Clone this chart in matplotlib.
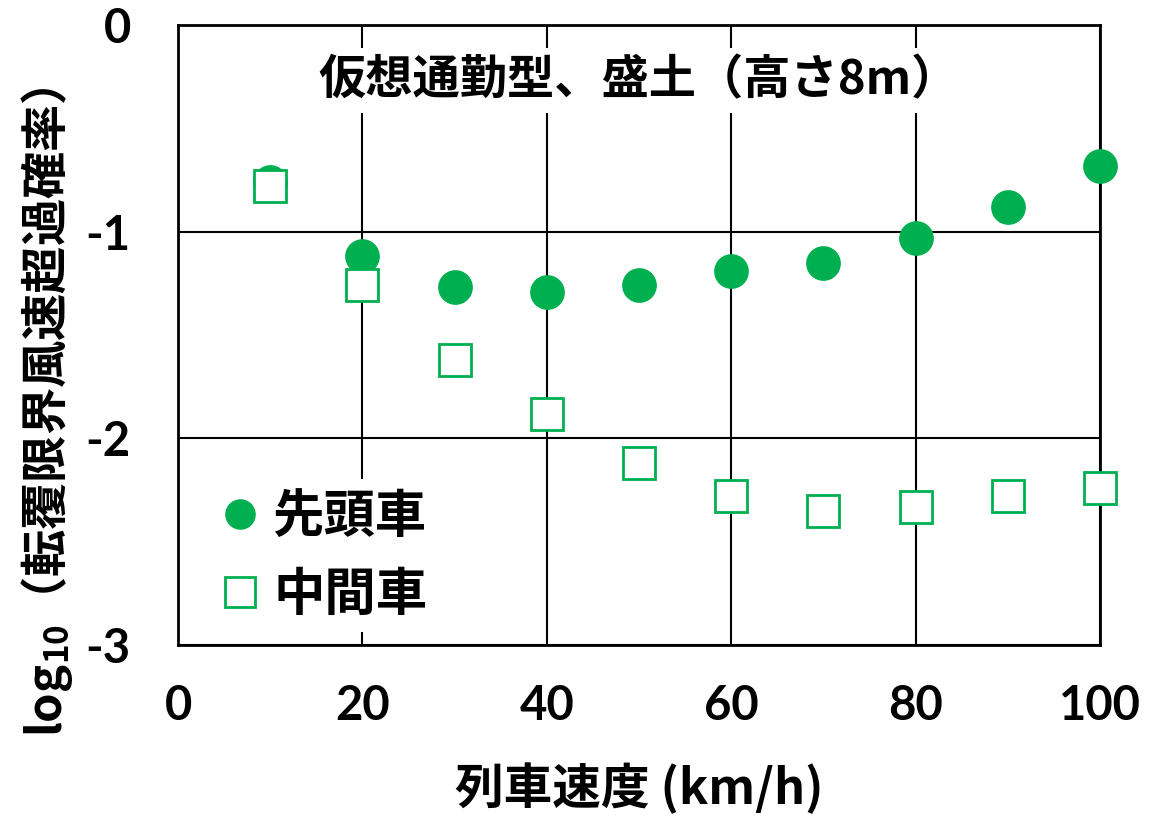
import matplotlib.pyplot as plt
from matplotlib.lines import Line2D

plt.rcParams["font.family"] = ["Noto Sans CJK JP", "DejaVu Sans"]
plt.rcParams["mathtext.fontset"] = "custom"
plt.rcParams["mathtext.rm"] = "Noto Sans CJK JP:bold"
plt.rcParams["mathtext.bf"] = "Noto Sans CJK JP:bold"

# data
speed = [10, 20, 30, 40, 50, 60, 70, 80, 90, 100]
lead_car = [-0.76, -1.12, -1.27, -1.29, -1.26, -1.19, -1.15, -1.03, -0.88, -0.68]
middle_car = [-0.78, -1.26, -1.62, -1.88, -2.12, -2.28, -2.35, -2.33, -2.28, -2.24]
x_ticks = [0, 20, 40, 60, 80, 100]
y_ticks = [0, -1, -2, -3]

GREEN = "#00B050"
NUM_FONT = ["Lato", "DejaVu Sans"]

fig = plt.figure(figsize=(11.66, 8.18), dpi=100, facecolor="white")
ax = fig.add_axes([0.1527, 0.2115, 0.7907, 0.7579])

ax.plot(speed, lead_car, "o", ms=24, color=GREEN, mec=GREEN, zorder=3, clip_on=False)
ax.plot(speed, middle_car, "s", ms=23, mfc="white", mec=GREEN, mew=2, zorder=4, clip_on=False)

ax.set_xlim(0, 100)
ax.set_ylim(-3, 0)
ax.set_xticks(x_ticks)
ax.set_yticks(y_ticks)
ax.set_xticklabels([str(v) for v in x_ticks], fontsize=34, fontweight="bold", family=NUM_FONT)
ax.set_yticklabels([str(v) for v in y_ticks], fontsize=34, fontweight="bold", family=NUM_FONT)
ax.tick_params(axis="y", length=0, pad=34)
ax.tick_params(axis="x", length=0, pad=28)
ax.grid(True, color="black", lw=1.5)
ax.set_axisbelow(True)
for s in ax.spines.values():
    s.set_linewidth(2)

ax.set_xlabel("列車速度 (km/h)", fontsize=35, fontweight="bold")
ax.xaxis.set_label_coords(0.5, -0.19)
ax.set_ylabel("log$_{10}$（転覆限界風速超過確率）", fontsize=34, fontweight="bold")
ax.yaxis.set_label_coords(-0.112, 0.376)

ax.text(0.5, 0.911, "仮想通勤型、盛土（高さ8m）", transform=ax.transAxes, ha="center", va="center",
        fontsize=34, fontweight="bold", zorder=5,
        bbox=dict(facecolor="white", edgecolor="none", pad=6))

handles = [
    Line2D([], [], ls="", marker="o", ms=21, color=GREEN),
    Line2D([], [], ls="", marker="s", ms=21, mfc="white", mec=GREEN, mew=2),
]
leg = ax.legend(handles, ["先頭車", "中間車"], loc="lower left", bbox_to_anchor=(0.0, -0.02),
                frameon=True, fancybox=False, edgecolor="none", framealpha=1,
                prop={"size": 37, "weight": "bold"}, handletextpad=0.15, labelspacing=0.5,
                handlelength=1.0, borderpad=0.2)
leg.set_zorder(5)

fig.savefig("out.png", dpi=100, facecolor="white")
